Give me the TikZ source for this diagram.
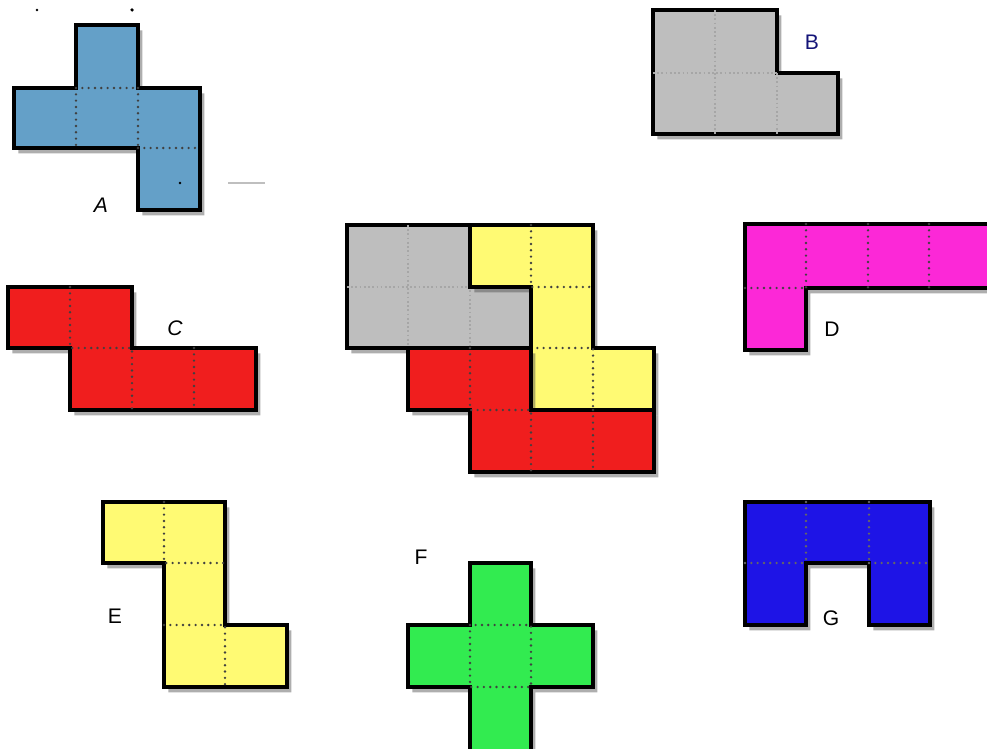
\documentclass[tikz,border=0pt]{standalone}
\usepackage{fontspec}
\setmainfont{Liberation Sans}
\usepackage{tikz}
\usetikzlibrary{shadows}
\definecolor{PieceBlue}{RGB}{100,160,200}
\definecolor{PieceGray}{RGB}{190,190,190}
\definecolor{PieceRed}{RGB}{240,30,30}
\definecolor{PieceMagenta}{RGB}{252,40,215}
\definecolor{PieceYellow}{RGB}{255,250,115}
\definecolor{PieceGreen}{RGB}{50,235,80}
\definecolor{PieceNavy}{RGB}{30,20,230}
\definecolor{TagBlue}{RGB}{20,20,120}
\tikzset{
  piece/.style={draw=black, line width=2.3pt, line join=miter, fill=#1,
    drop shadow={opacity=0.45, shadow xshift=2.5pt, shadow yshift=-3pt, fill=black!70}},
  seam/.style={line width=1.5pt, line cap=round, dash pattern=on 0pt off 3.6pt, draw=black!75},
  lightseam/.style={line width=0.8pt, dash pattern=on 1pt off 1.4pt, draw=black!35},
  tag/.style={font=\large, inner sep=0pt}
}

\begin{document}
\begin{tikzpicture}[x=0.02cm, y=-0.02cm]
  \clip (0,0) rectangle (987,749);
  \fill[white] (0,0) rectangle (987,749);

  % A
  \draw[piece=PieceBlue] (76,25) -- (138,25) -- (138,88) -- (200,88) -- (200,210) -- (138,210)
    -- (138,148) -- (14,148) -- (14,88) -- (76,88) -- cycle;
  \draw[seam] (76,88) -- (138,88) (76,88) -- (76,148) (138,88) -- (138,148) (138,148) -- (200,148);
  \node[tag, font=\large\itshape] (labA) at (101,205) {A};
  \fill[black] (180,183) circle (0.8pt) (37,10) circle (0.8pt) (132,10) circle (1pt);
  \draw[black!25, line width=1.2pt] (228,183) -- (265,183);

  % B
  \draw[piece=PieceGray] (653,10) -- (777,10) -- (777,73) -- (838,73) -- (838,134) -- (653,134) -- cycle;
  \draw[lightseam] (715,10) -- (715,134) (653,73) -- (777,73) (777,73) -- (777,134);
  \node[tag, text=TagBlue] (labB) at (812,42) {B};

  % C
  \draw[piece=PieceRed] (8,287) -- (132,287) -- (132,348) -- (256,348) -- (256,410) -- (70,410)
    -- (70,348) -- (8,348) -- cycle;
  \draw[seam] (70,287) -- (70,348) -- (132,348) -- (132,410) (194,348) -- (194,410);
  \node[tag, font=\large\itshape] (labC) at (175,328) {C};

  % D
  \draw[piece=PieceMagenta] (745,224) -- (995,224) -- (995,288) -- (806,288) -- (806,350) -- (745,350) -- cycle;
  \draw[seam] (806,224) -- (806,288) (868,224) -- (868,288) (929,224) -- (929,288) (745,288) -- (806,288);
  \node[tag] (labD) at (832,329) {D};

  % puzzle in the middle
  \draw[piece=PieceGray] (347,225) -- (470,225) -- (470,287) -- (531,287) -- (531,348) -- (347,348) -- cycle;
  \draw[lightseam] (408,225) -- (408,348) (347,287) -- (470,287) -- (470,348);
  \draw[piece=PieceYellow] (470,225) -- (593,225) -- (593,348) -- (654,348) -- (654,410) -- (531,410)
    -- (531,287) -- (470,287) -- cycle;
  \draw[seam] (531,225) -- (531,287) -- (593,287) (531,348) -- (593,348) -- (593,410);
  \draw[piece=PieceRed] (408,348) -- (531,348) -- (531,410) -- (654,410) -- (654,472) -- (470,472)
    -- (470,410) -- (408,410) -- cycle;
  \draw[seam] (470,348) -- (470,410) -- (531,410) -- (531,472) (593,410) -- (593,472);

  % E
  \draw[piece=PieceYellow] (103,502) -- (225,502) -- (225,625) -- (287,625) -- (287,687) -- (164,687)
    -- (164,563) -- (103,563) -- cycle;
  \draw[seam] (164,502) -- (164,563) -- (225,563) (164,625) -- (225,625) -- (225,687);
  \node[tag] (labE) at (115,616) {E};

  % F
  \draw[piece=PieceGreen] (470,563) -- (531,563) -- (531,625) -- (593,625) -- (593,687) -- (531,687)
    -- (531,765) -- (470,765) -- (470,687) -- (408,687) -- (408,625) -- (470,625) -- cycle;
  \draw[seam] (470,625) rectangle (531,687);
  \node[tag] (labF) at (421,557) {F};

  % G
  \draw[piece=PieceNavy] (745,502) -- (930,502) -- (930,625) -- (869,625) -- (869,563) -- (806,563)
    -- (806,625) -- (745,625) -- cycle;
  \draw[seam, draw=black!60] (806,502) -- (806,563) (869,502) -- (869,563) (745,563) -- (806,563)
    (869,563) -- (930,563);
  \node[tag] (labG) at (831,618) {G};
\end{tikzpicture}
\end{document}
